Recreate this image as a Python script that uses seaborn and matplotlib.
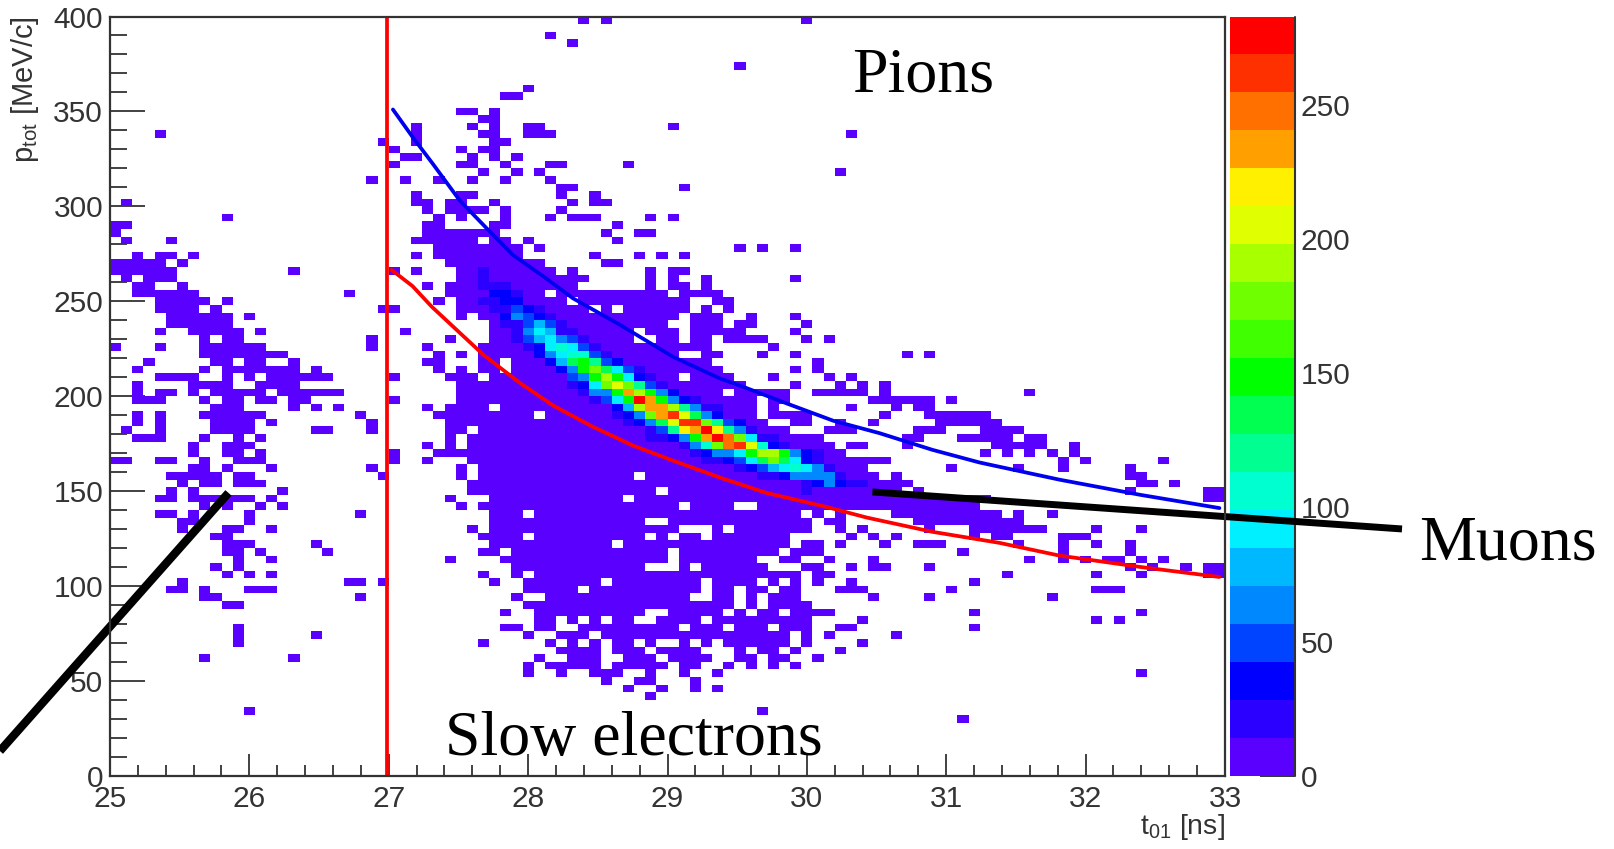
import numpy as np
import pandas as pd
import matplotlib
matplotlib.use("Agg")
import matplotlib.pyplot as plt
from matplotlib.colors import ListedColormap
import seaborn as sns

sns.set_style("ticks")
plt.rcParams["font.family"] = ["Liberation Sans", "DejaVu Sans"]
plt.rcParams["mathtext.fontset"] = "custom"
plt.rcParams["mathtext.rm"] = "Liberation Sans"
plt.rcParams["mathtext.default"] = "regular"

# histogram: 100 x 100 bins, t01 25-33 ns, ptot 0-400 MeV/c
t_min, t_max, n_t = 25, 33, 100
p_min, p_max, n_p = 0, 400, 100
count_max = 283
low_count = 5

palette = ["#5a00ff", "#2c00ff", "#0000ff", "#0044ff", "#0088ff", "#00b8ff", "#00f0ff",
           "#00ffd0", "#00ff90", "#00ff50", "#00ff00", "#40ff00", "#70ff00", "#a8ff00",
           "#e0ff00", "#fff000", "#ffa000", "#ff7000", "#ff3000", "#ff0000"]

# low occupancy bins: (p bin, "t bins")
far_cells = [(99, "42 44 62"), (97, "39"), (96, "41"), (93, "56"), (84, "4 66"), (83, "24"), (82, "25"),
             (80, "25"), (79, "65"), (78, "23 26"), (77, "51"), (69, "56 58 61"), (65, "61"),
             (63, "52-54"), (64, "53"), (8, "12 58"), (7, "76"), (13, "92"), (15, "8 16"),
             (17, "11"), (18, "11 18"), (19, "11"), (22, "10-11")]

left_cells = [(75, "1"), (73, "10"), (72, "0-1"), (71, "0"), (70, "1 5"), (68, "2 4-5 7"),
              (67, "0-4 6"), (66, "0-5 16"), (65, "1 3-5"), (64, "2-3 6"), (63, "2-7 21"),
              (62, "4-8 10"), (61, "4-7 9 24-25"), (60, "5-10 12"), (59, "5-10"),
              (58, "4 7-11 13 26"), (57, "8 10-11 23"), (56, "0 4 8-13 23"), (55, "8-15"),
              (54, "3 9-10 12-13 16"), (53, "2 8 10-16 18"), (52, "4-7 10 12 14-19 25"),
              (51, "2 7-10 13-16"), (50, "2 4-5 7 9-13 15-20"), (49, "2-4 8 10-11 13-14 16-17 25"),
              (48, "9-11 16 18 20"), (47, "2 4 8-13 22"), (46, "2 4 9-12 14 23"),
              (45, "1 4 9-12 18-19 23"), (44, "2-4 8 11 13"), (43, "7 10-12"), (42, "7 10-11 13 25"),
              (41, "0-1 4-5 8 11-13 25"), (40, "7-8 10 14 23"), (39, "5-9 11-12 24"),
              (38, "6 8-9 11-13"), (37, "5 7 15"), (36, "4-5 7-12 14"), (35, "8 10 13 15"),
              (34, "4-5 7 12 22"), (33, "6-7 12"), (32, "6 10-11 14"), (31, "9-10"),
              (30, "10-12 18"), (29, "10-11 13 19"), (28, "11 14"), (27, "9 11"), (26, "10 12 14"),
              (25, "6 21-22 24"), (24, "5-6 8 12-14"), (23, "8-9 22")]

upper_cells = [(90, "37"), (89, "35-36"), (87, "31-32 34"), (86, "33-34"), (85, "27 32 34 37-38 50"),
               (84, "27 33-34 37-39"), (83, "24 27 34-35"), (82, "25 31 33-34"),
               (81, "26-27 32 34 36"), (80, "25 31-32 35 39-40 46"), (79, "33 36 38"),
               (78, "26 29 32 35 39"), (77, "40-41 51"), (76, "27 31-32 40 43"),
               (75, "27-28 30-31 34 41 43-44"), (74, "28 30-33 35 40"),
               (73, "29 31 35 39 41-43 48 50"), (72, "28-29 34-35 45"), (71, "28-34 44 47-48"),
               (70, "27-32 34-35 37 45"), (69, "29-36 38"), (68, "27 29-36 43 47 49 51"),
               (67, "30-38 44-45"), (66, "25 27 31-39 41 48 50-51")]

core_cells = [(65, "31-40 41-42 48 50 53"), (64, "28 30-41 48 50-51"), (63, "30-38 40-41 42-49 51-52"),
              (62, "29 31-40 42-51 54"), (61, "31-42 44 46-51 53"), (60, "31 33-50 52-54"),
              (59, "34-49 52-54"), (58, "34-46 48-50 52-54"), (57, "30 34-46 49-50 52-53"),
              (56, "28 33-53"), (55, "29 31 33-50 53-54"), (54, "28-29 33-34 36-53"),
              (53, "29 31 33-34 36-54"), (52, "30-32 34-50 52-54"), (51, "31-54"), (50, "31-54"),
              (49, "31-54"), (48, "28 30-33 35-54"), (47, "29-37 39-54"), (46, "30-54"),
              (45, "30-31 33-54"), (44, "30 32-54"), (43, "28 30 32-54"), (42, "29-54"),
              (41, "28 32-54"), (40, "31 33-54"), (39, "31 33-46 48-54"), (38, "32-54"),
              (37, "32-48 50-54"), (36, "30 34-45 47-54"), (35, "31 33-50 52-54"), (34, "34-36 38-54"),
              (33, "34-47 50-54"), (32, "32 34-50 54"), (31, "33-36 38-47 49 51-52 54"),
              (30, "34-44 46-54"), (29, "33-34 36-49 51-54"), (28, "30 35-49 51-54"),
              (27, "36-47 51 53-54"), (26, "33 36 38-54"), (25, "34 37-43 45-52 54"),
              (24, "37-41 43-52 54"), (23, "36 39-51 54"), (22, "37-54"), (21, "35 38-47 50-54"),
              (20, "38-39 41 43 45-46 49-52 54"), (19, "35-36 38-39 42-50 52-54"),
              (18, "37 40-42 44-54"), (17, "33 39 41 43 45-46 48 51 53"),
              (16, "40-43 45-47 49-52"), (15, "38 41-43 46-48 50-53"), (14, "37 39-43 45-49 51-52"),
              (13, "37 40 43-45 48 51"), (12, "44 47-48 52"), (11, "46 49 52 54"), (10, "48")]

right_cells = [(62, "54-55"), (61, "53 55"), (60, "53-54 57 61"), (59, "56-57 62"), (58, "53-56 61"),
               (57, "53 55-58 62 64"), (56, "53 59"), (55, "53-54 58 61 71 73"), (54, "53 63"),
               (53, "53-54 61 63"), (52, "53-55 59 64 66"), (51, "53-56 61 65 67 69"),
               (50, "53-54 56-60 63-67 69"), (49, "53-57 59-60 68-73 75"),
               (48, "53-57 59 66 70 72-73"), (47, "53-57 59-62 69 73-75 76-78"),
               (46, "53-58 61-62 65 68 74-75 76-79"), (45, "53-60 64-66 72-74 79"),
               (44, "53-63 71-72 76-78 79"), (43, "53-64 66-67 71 79"), (42, "53-65 78"),
               (41, "53-69"), (40, "53-67 75"), (39, "53-68 70"), (38, "53-71"), (37, "53-70 72"),
               (36, "53-78"), (35, "53-55 58-77"), (34, "53-61 63 65 70-79"),
               (33, "53-62 64-65 72-79"), (32, "54 56-62 65 67 73 77-79"),
               (31, "54-60 66 68 70 77 79"), (30, "53-60 62-63 65 69 72-74"),
               (29, "53-59 61-63 76"), (28, "53-57 60-61 64 68"), (27, "53-58 62-63 66 68-69 73"),
               (26, "53-61 63-64"), (25, "54-57 59 61 63 66 77"), (24, "54-55 57-58 60-61 65-67 75"),
               (23, "54-55 57 59-61 68 73"), (22, "53-55 57 59-62"), (21, "53-54 56 58-59 61-64 77"),
               (20, "54-62 67"), (19, "53-54 56-58 60-62 65-66 77"), (18, "53-60 62 64 70"),
               (17, "53 55-60 62 67"), (16, "56 58-59 61 65"), (15, "53 56-57 59-60 63"),
               (14, "55 57 59 61"), (13, "54")]

tail_cells = [(50, "82"), (46, "78"), (45, "78 80-81"), (44, "79-80 82-83"), (43, "79-83 86"),
              (42, "78 80 82 84 86"), (41, "85 87 94"), (40, "81 85 91"), (39, "91-92"),
              (38, "92-93 95"), (37, "91 98-99"), (36, "98-99"), (34, "81 84"), (33, "78-81"),
              (32, "78-83 88 92"), (31, "79-80 85-87"), (30, "81 85 88 91"), (29, "85 91"),
              (28, "82 85 87 89-90 92 94"), (27, "91 93 96 98-99"), (26, "80 88 92 98-99"),
              (24, "88-90"), (23, "84"), (21, "92"), (20, "88 90")]

# bright band: (p bin, first t bin, counts)
ridge_66_55 = [(66, 33, [21]), (65, 33, [21]), (64, 33, [21, 21, 21]), (63, 34, [35, 35, 21]),
               (62, 33, [21, 21, 35, 35]), (61, 34, [21, 21, 49, 35, 21]), (60, 35, [35, 63, 49, 35, 21]),
               (59, 35, [21, 21, 49, 77, 49, 21]), (58, 36, [21, 63, 91, 77, 21, 21]),
               (57, 36, [21, 49, 77, 91, 63, 49, 21]), (56, 37, [21, 42, 91, 105, 91, 49, 21]),
               (55, 38, [35, 63, 91, 105, 105, 49, 21])]
ridge_54_48 = [(54, 39, [35, 77, 133, 147, 119, 49, 35]), (53, 40, [35, 63, 147, 175, 133, 91, 49, 21]),
               (52, 41, [49, 63, 147, 189, 147, 91, 35, 21]), (51, 41, [21, 35, 91, 175, 203, 175, 119, 49, 21]),
               (50, 42, [21, 63, 63, 147, 231, 189, 147, 63, 35]),
               (49, 43, [21, 49, 91, 147, 273, 231, 147, 63, 35, 21]),
               (48, 45, [35, 77, 189, 231, 231, 189, 119, 63, 21, 21])]
ridge_47_37 = [(47, 45, [21, 35, 63, 175, 231, 259, 203, 133, 63, 35]),
               (46, 46, [21, 35, 63, 133, 203, 259, 259, 175, 119, 49, 35]),
               (45, 48, [21, 49, 119, 217, 231, 273, 217, 119, 63, 21]),
               (44, 48, [21, 21, 35, 63, 147, 231, 273, 245, 175, 91, 21, 21]),
               (43, 51, [21, 63, 105, 175, 245, 259, 203, 105, 35, 21]),
               (42, 52, [21, 35, 63, 63, 91, 147, 189, 189, 147, 63, 35, 21]),
               (41, 53, [21, 21, 35, 49, 91, 133, 175, 133, 91, 35, 21]),
               (40, 56, [21, 35, 49, 77, 91, 105, 91, 63, 21]),
               (39, 58, [21, 21, 35, 63, 63, 63, 63, 21]),
               (38, 62, [21, 35, 63, 35, 21, 21]), (37, 62, [21])]

vline_t = [26.99, 26.99]
vline_p = [0, 400]
blue_t = [27.03, 27.17, 27.32, 27.51, 27.70, 27.89, 28.13, 28.32, 28.66, 29.04, 29.37, 29.54, 29.86,
          30.19, 30.52, 30.90, 31.24, 31.81, 32.39, 32.96]
blue_p = [351, 336.6, 322, 303, 288.6, 274.4, 262, 251.6, 237.5, 220.7, 209.5, 205, 196,
          187, 180.5, 171.7, 165, 156, 148, 141]
red_t = [27.02, 27.17, 27.31, 27.50, 27.68, 27.94, 28.18, 28.46, 28.75, 29.04, 29.38, 29.71, 30.14,
         30.43, 30.90, 31.38, 31.81, 32.39, 32.96]
red_p = [266.5, 258, 247, 234, 221.7, 207, 195, 184, 174, 166, 157, 149, 141.6,
         136, 128.5, 122.7, 116, 110, 104.7]
muon_line_t = [30.47, 34.27]
muon_line_p = [149.5, 130]
electron_line_t = [25.85, 24.21]
electron_line_p = [149, 13]

t_ticks = [25, 26, 27, 28, 29, 30, 31, 32, 33]
p_ticks = [0, 50, 100, 150, 200, 250, 300, 350, 400]
bar_ticks = [0, 50, 100, 150, 200, 250]


def to_col(t):
    return (np.asarray(t, dtype=float) - t_min) / (t_max - t_min) * n_t


def to_row(p):
    return (np.asarray(p, dtype=float) - p_min) / (p_max - p_min) * n_p


grid = np.zeros((n_p, n_t))
for cells in [far_cells, left_cells, upper_cells, core_cells, right_cells, tail_cells]:
    for row, spec in cells:
        for part in spec.split():
            a, _, b = part.partition("-")
            grid[row, int(a):int(b or a) + 1] = low_count
for ridge in [ridge_66_55, ridge_54_48, ridge_47_37]:
    for row, first, vals in ridge:
        grid[row, first:first + len(vals)] = vals

df = pd.DataFrame(grid)

fig = plt.figure(figsize=(16.14, 8.49), dpi=100)
W, H = 1614, 849
ax = fig.add_axes([110 / W, 1 - 775.7 / H, 1115 / W, 759.2 / H])
cax = fig.add_axes([1230 / W, 1 - 775.7 / H, 65 / W, 759.2 / H])

sns.heatmap(df, ax=ax, cbar_ax=cax, mask=grid == 0, cmap=ListedColormap(palette),
            vmin=0, vmax=count_max, xticklabels=False, yticklabels=False,
            cbar_kws={"ticks": bar_ticks})
ax.set_xlim(0, n_t)
ax.set_ylim(0, n_p)
ax.set_facecolor("none")
ax.set_zorder(3)

for s in ax.spines.values():
    s.set_visible(True)
    s.set_color("#333333")
    s.set_linewidth(1.6)

ax.set_xticks(to_col(t_ticks))
ax.set_xticklabels([str(t) for t in t_ticks])
ax.set_xticks(to_col(np.arange(25, 33.01, 0.2)), minor=True)
ax.set_yticks(to_row(p_ticks))
ax.set_yticklabels([str(p) for p in p_ticks], rotation=0)
ax.set_yticks(to_row(np.arange(0, 400.1, 10)), minor=True)
ax.tick_params(axis="x", which="major", direction="in", length=16, width=1.3, color="#333333",
               labelsize=21.5, labelcolor="#333333", pad=7, bottom=True)
ax.tick_params(axis="x", which="minor", direction="in", length=8, width=1.3, color="#333333", bottom=True)
ax.tick_params(axis="y", which="major", direction="in", length=25, width=1.3, color="#333333",
               labelsize=21.5, labelcolor="#333333", pad=5, left=True)
ax.tick_params(axis="y", which="minor", direction="in", length=12.5, width=1.3, color="#333333", left=True)

ax.set_xlabel(r"t$_{01}$ [ns]", fontsize=20.5, color="#333333", loc="right", labelpad=0)
ax.xaxis.set_label_coords(1.0, -0.048)
ax.set_ylabel(r"p$_{tot}$ [MeV/c]", fontsize=21, color="#333333", loc="top")
ax.yaxis.set_label_coords(-0.062, 1.0)

ax.plot(to_col(vline_t), to_row(vline_p), color="#ff0000", lw=2.7, solid_capstyle="butt")
ax.plot(to_col(blue_t), to_row(blue_p), color="#0000f0", lw=2.7)
ax.plot(to_col(red_t), to_row(red_p), color="#ff0000", lw=2.7)
ax.plot(to_col(muon_line_t), to_row(muon_line_p), color="black", lw=5, clip_on=False, solid_capstyle="butt")
ax.plot(to_col(electron_line_t), to_row(electron_line_p), color="black", lw=6, clip_on=False, solid_capstyle="butt")

serif = {"family": "Liberation Serif", "fontsize": 46, "color": "black", "va": "baseline", "ha": "left"}
fig.text(852 / W, 1 - 91.6 / H, "Pions", **serif)
fig.text(445 / W, 1 - 754.5 / H, "Slow electrons", zorder=10, **serif)
fig.text(1419 / W, 1 - 559 / H, "Muons", **serif)

cbar = ax.collections[0].colorbar
cbar.outline.set_visible(False)
cax.tick_params(axis="y", direction="in", length=25, width=1.3, color="#222222", labelsize=21.5,
                labelcolor="#333333", pad=4, right=True, left=False)
cax.axvline(1, color="#333333", lw=1.5, clip_on=False)

fig.savefig("out.png", dpi=100)
